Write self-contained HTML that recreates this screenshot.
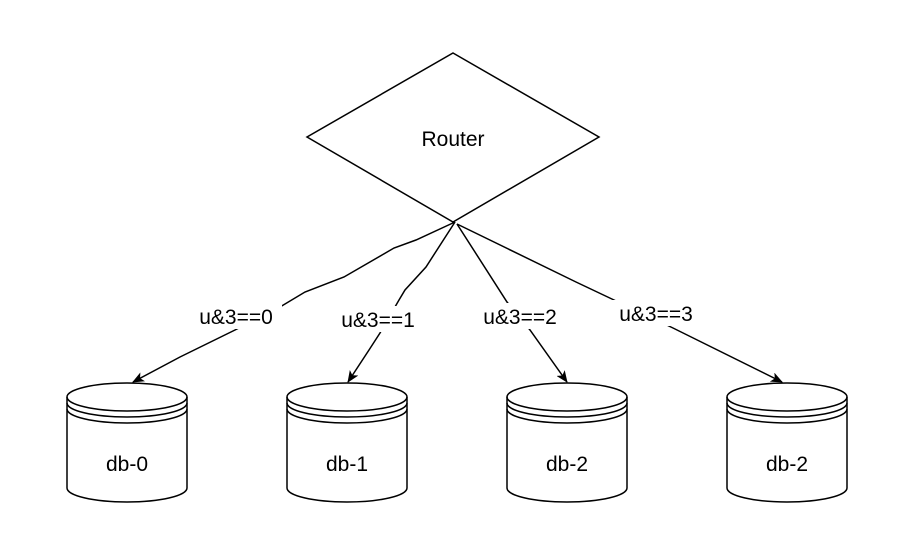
<!DOCTYPE html>
<html><head><style>
html,body{margin:0;padding:0;background:#fff;}
svg{display:block;}
text{font-family:"Liberation Sans",Arial,sans-serif;fill:#000;}
</style></head><body>
<svg width="916" height="560" viewBox="0 0 916 560" xmlns="http://www.w3.org/2000/svg">
<defs>
<marker id="a" markerWidth="12" markerHeight="10" refX="11" refY="5" orient="auto" markerUnits="userSpaceOnUse">
<path d="M0,0 L12,5 L0,10 L3,5 Z" fill="#000"/>
</marker>
</defs>
<polygon points="453,53 599,137 453,222 307,137" fill="#fff" stroke="#000" stroke-width="1.5"/>
<text x="453" y="146" font-size="21" text-anchor="middle">Router</text>
<g fill="none" stroke="#000" stroke-width="1.5">
<polyline points="455,222 416,240 394,248 382,255 344,277 305,292 280,307 235,330 180,357 133,382" marker-end="url(#a)"/>
<polyline points="455,222 426,267 405,290 399,300 380,333 369,350 348,382" marker-end="url(#a)"/>
<polyline points="457,224 507,302 530,330 567,382" marker-end="url(#a)"/>
<polyline points="457,224 576,282 614,300 673,328 782,382" marker-end="url(#a)"/>
</g>
<g font-size="21" text-anchor="middle">
<rect x="190" y="303" width="92" height="26" fill="#fff"/>
<text x="236" y="324">u&amp;3==0</text>
<rect x="332" y="306" width="92" height="26" fill="#fff"/>
<text x="378" y="327">u&amp;3==1</text>
<rect x="474" y="303" width="92" height="26" fill="#fff"/>
<text x="520" y="324">u&amp;3==2</text>
<rect x="610" y="300" width="92" height="26" fill="#fff"/>
<text x="656" y="321">u&amp;3==3</text>
</g>
<g fill="#fff" stroke="#000" stroke-width="1.5">
<g id="c">
<path d="M67,397 A60,14 0 0 1 187,397 L187,488 A60,14 0 0 1 67,488 Z"/>
<path d="M67,397 A60,14 0 0 0 187,397 M67,403 A60,14 0 0 0 187,403 M67,409 A60,14 0 0 0 187,409" fill="none"/>
</g>
<use href="#c" x="220"/>
<use href="#c" x="440"/>
<use href="#c" x="660"/>
</g>
<g font-size="21" text-anchor="middle">
<text x="127" y="471">db-0</text>
<text x="347" y="471">db-1</text>
<text x="567" y="471">db-2</text>
<text x="787" y="471">db-2</text>
</g>
</svg>
</body></html>
